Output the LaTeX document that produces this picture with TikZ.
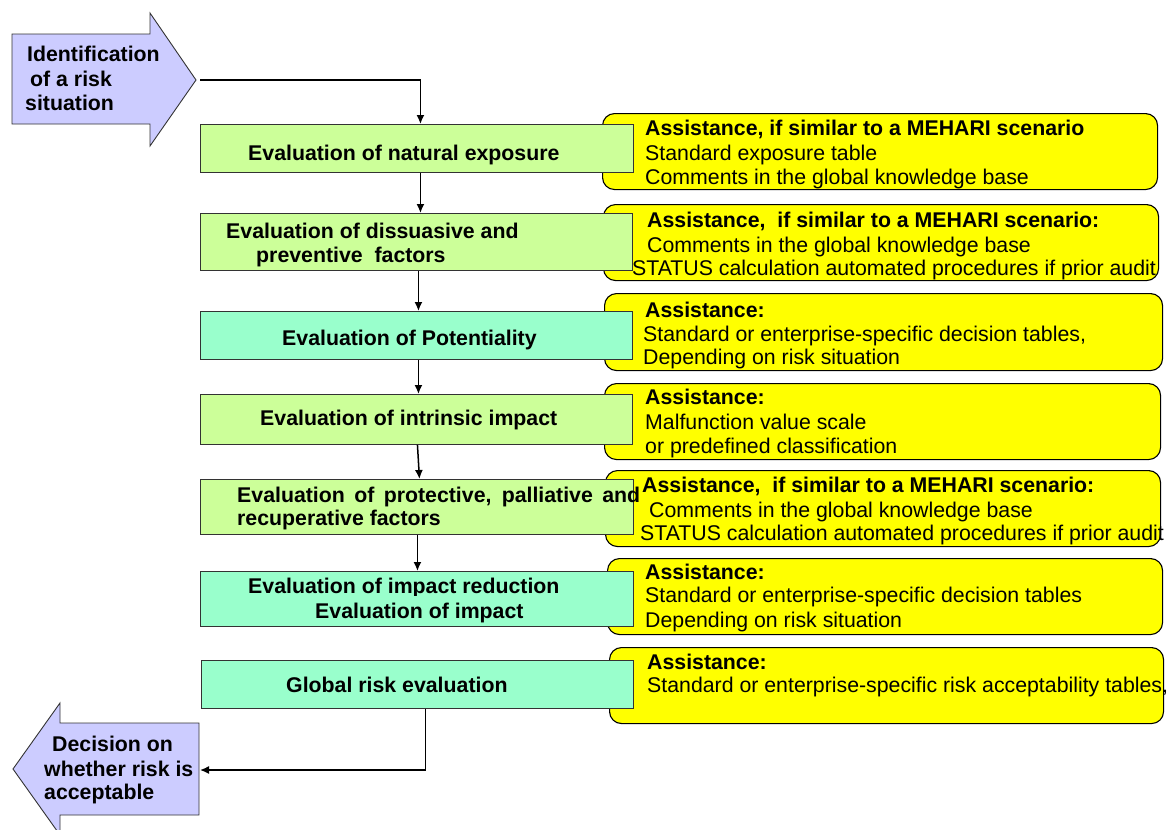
\documentclass[tikz,border=0pt]{standalone}
\usepackage{fontspec}
\setmainfont{Liberation Sans}
\usetikzlibrary{arrows.meta}
\definecolor{lav}{RGB}{204,204,255}
\definecolor{lgreen}{RGB}{204,255,153}
\definecolor{aqua}{RGB}{153,255,204}
\definecolor{yel}{RGB}{255,255,0}
\begin{document}
\begin{tikzpicture}[x=1pt,y=-1pt,
  ybox/.style={draw=black, line width=1.1pt, fill=yel, rounded corners=12pt, inner sep=0pt, anchor=north west},
  gbox/.style={draw=black!80, line width=0.9pt, fill=lgreen, inner sep=0pt, anchor=north west},
  abox/.style={gbox, fill=aqua},
  bigarrow/.style={draw=black!80, line width=0.9pt, fill=lav},
  btxt/.style={font=\fontsize{21.3}{24.5}\selectfont\bfseries, inner sep=0pt, anchor=base west},
  rtxt/.style={font=\fontsize{21.3}{24.5}\selectfont, inner sep=0pt, anchor=base west},
  conn/.style={line width=1.5pt, -{Latex[length=9pt,width=8pt]}},
]
\useasboundingbox (0,0) rectangle (1173,830);

% input and output arrows
\draw[bigarrow] (12,34) -- (150,34) -- (150,13) -- (196,80) -- (150,146) -- (150,124) -- (12,124) -- cycle;
\coordinate (inTip) at (196,80);
\node[btxt] (in1) at (27,61) {Identification};
\node[btxt] (in2) at (30,86) {of a risk};
\node[btxt] (in3) at (25,110) {situation};

\draw[bigarrow] (199,723) -- (60,723) -- (60,703) -- (13,769) -- (60,835) -- (60,815) -- (199,815) -- cycle;
\coordinate (outR) at (200,770);
\node[btxt] (out1) at (52,751) {Decision on};
\node[btxt] (out2) at (44,776) {whether risk is};
\node[btxt] (out3) at (44,799) {acceptable};

% yellow assistance boxes
\node[ybox, minimum width=555pt, minimum height=76pt] (y1) at (602,113) {};
\node[ybox, minimum width=555pt, minimum height=76pt] (y2) at (603,204) {};
\node[ybox, minimum width=558pt, minimum height=77pt] (y3) at (604,293) {};
\node[ybox, minimum width=556pt, minimum height=76pt] (y4) at (604,383) {};
\node[ybox, minimum width=555pt, minimum height=76pt] (y5) at (605,470) {};
\node[ybox, minimum width=555pt, minimum height=76pt] (y6) at (607,558) {};
\node[ybox, minimum width=554pt, minimum height=76pt] (y7) at (609,647) {};

% step boxes
\node[gbox, minimum width=433pt, minimum height=48pt] (b1) at (200,124) {};
\node[gbox, minimum width=432pt, minimum height=57pt] (b2) at (200,213) {};
\node[abox, minimum width=432pt, minimum height=48pt] (b3) at (200,311) {};
\node[gbox, minimum width=432pt, minimum height=50pt] (b4) at (200,394) {};
\node[gbox, minimum width=433pt, minimum height=55pt] (b5) at (200,479) {};
\node[abox, minimum width=433pt, minimum height=55pt] (b6) at (200,571) {};
\node[abox, minimum width=432pt, minimum height=48pt] (b7) at (201,660) {};

% step texts
\node[btxt] (s1) at (248,160) {Evaluation of natural exposure};
\node[btxt] (s2a) at (226,238) {Evaluation of dissuasive and};
\node[btxt] (s2b) at (256,262) {preventive\ \ factors};
\node[btxt] (s3) at (282,345) {Evaluation of Potentiality};
\node[btxt] (s4) at (260,425) {Evaluation of intrinsic impact};
\node[btxt] (s5a) at (237,502) {\makebox[403pt][s]{Evaluation of protective, palliative and}};
\node[btxt] (s5b) at (237,525) {recuperative factors};
\begin{scope}
\clip (240,570) rectangle (570,595.5);
\node[btxt] (s6a) at (248,593) {Evaluation of impact reduction};
\end{scope}
\node[btxt] (s6b) at (315,618) {Evaluation of impact};
\node[btxt] (s7) at (286,692) {Global risk evaluation};

% assistance texts
\node[btxt] (t11) at (645,135) {Assistance, if similar to a MEHARI scenario};
\node[rtxt] (t12) at (645,160) {Standard exposure table};
\node[rtxt] (t13) at (645,184) {Comments in the global knowledge base};

\node[btxt] (t21) at (647,227) {Assistance,\ \ if similar to a MEHARI scenario:};
\node[rtxt] (t22) at (647,252) {Comments in the global knowledge base};
\node[rtxt] (t23) at (632,275) {STATUS calculation automated procedures if prior audit};

\node[btxt] (t31) at (645,317) {Assistance:};
\node[rtxt] (t32) at (643,341) {Standard or enterprise-specific decision tables,};
\node[rtxt] (t33) at (643,364) {Depending on risk situation};

\node[btxt] (t41) at (645,404) {Assistance:};
\node[rtxt] (t42) at (645,429) {Malfunction value scale};
\node[rtxt] (t43) at (645,453) {or predefined classification};

\node[btxt] (t51) at (642,492) {Assistance,\ \ if similar to a MEHARI scenario:};
\node[rtxt] (t52) at (649,517) {Comments in the global knowledge base};
\node[rtxt] (t53) at (640,540) {STATUS calculation automated procedures if prior audit};

\node[btxt] (t61) at (645,579) {Assistance:};
\node[rtxt] (t62) at (645,602) {Standard or enterprise-specific decision tables};
\node[rtxt] (t63) at (645,627) {Depending on risk situation};

\node[btxt] (t71) at (647,669) {Assistance:};
\node[rtxt] (t72) at (647,692) {Standard or enterprise-specific risk acceptability tables,};

% connectors
\draw[conn] ([xshift=4pt]inTip) -| ([xshift=3.5pt]b1.north);
\draw[conn] ([xshift=3.5pt]b1.south) -- ([xshift=4pt]b2.north);
\draw[conn] ([xshift=2pt]b2.south) -- ([xshift=2pt]b3.north);
\draw[conn] ([xshift=2pt]b3.south) -- ([xshift=2pt]b4.north);
\draw[conn] ([xshift=1pt]b4.south) -- ([xshift=2.5pt]b5.north);
\draw[conn] ([xshift=0.5pt]b5.south) -- ([xshift=0.5pt]b6.north);
\draw[conn] ([xshift=8pt]b7.south) |- (outR);
\end{tikzpicture}
\end{document}
